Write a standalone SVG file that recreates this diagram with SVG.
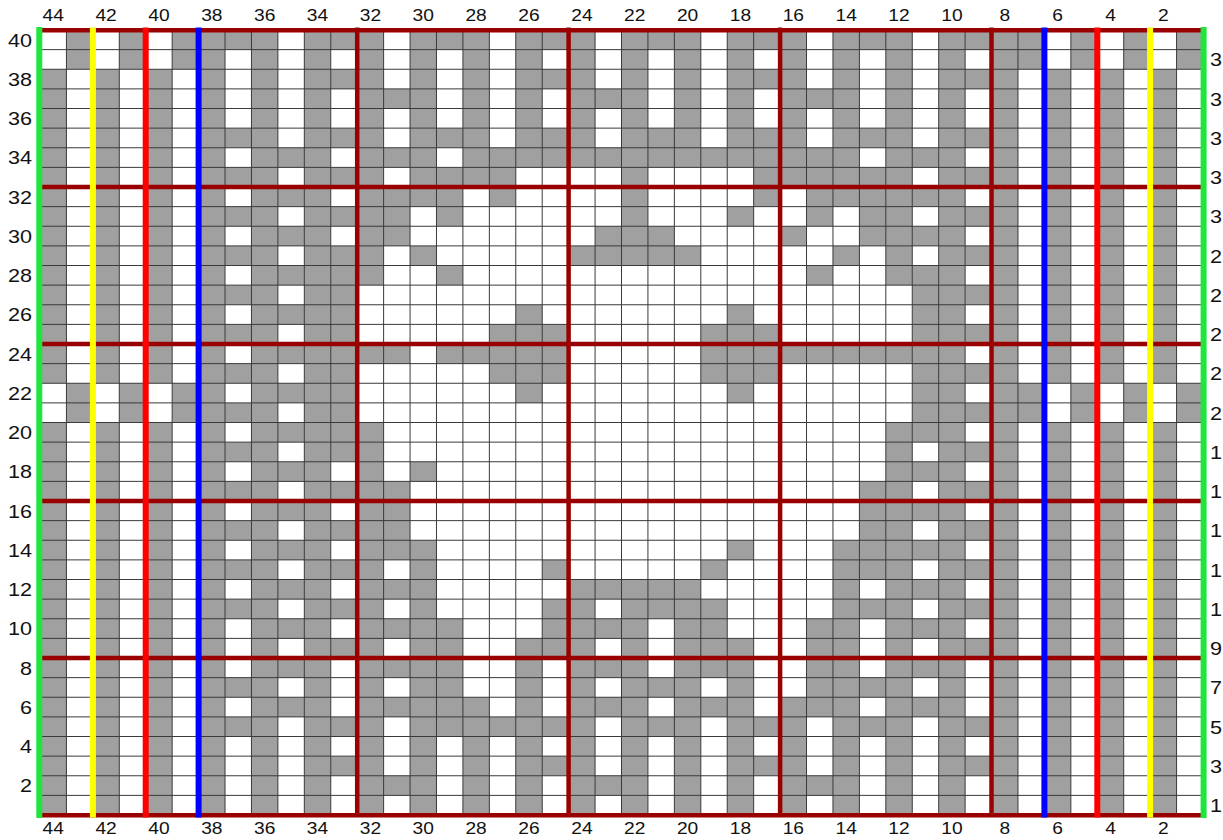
<svg xmlns="http://www.w3.org/2000/svg" width="1223" height="840" viewBox="0 0 1223 840">
<style>
.cell{fill:none;stroke:#a0a0a0;stroke-width:1;stroke-linecap:butt}
.dash{stroke-dasharray:1 1}
.thin{fill:none;stroke:#3a3a3a;stroke-width:1}
.dr{stroke:#990000;stroke-width:4.5;fill:none}
.ye{stroke:#ffff00;stroke-width:6}
.re{stroke:#ff0000;stroke-width:6}
.bl{stroke:#0000ff;stroke-width:6}
.gr{stroke:#1ee63c;stroke-width:6}
text{font-family:"Liberation Sans",Arial,sans-serif;fill:#111}
.t{font-size:16px;text-anchor:middle}
.l{font-size:18px;text-anchor:end}
.r{font-size:18px;text-anchor:start}
</style>
<rect width="1223" height="840" fill="#ffffff"/>
<g id="chart" transform="translate(40 30) scale(26.432 19.625)">
<rect x="0" y="0" width="44" height="40" fill="#ffffff"/>
<path class="cell" d="M.5 2v16M.5 20v20M1.5 0v2M1.5 18v2M2.5 2v16M2.5 20v20M3.5 0v2M3.5 18v2M4.5 2v16M4.5 20v20M5.5 0v2M5.5 18v2M6.5 0v40M7.5 0v1M8.5 0v40M10.5 0v40M33.5 12v9M34.5 0v40M36.5 0v40M37.5 0v2M37.5 18v2M38.5 2v16M38.5 20v20M39.5 0v2M39.5 18v2M40.5 2v16M40.5 20v20M41.5 0v2M41.5 18v2M42.5 2v16M42.5 20v20M43.5 0v2M43.5 18v2"/>
<path class="cell dash" d="M7.5 5v25M7.5 33v3M9.5 6v29M33.5 6v5M33.5 22v13M35.5 0v3M35.5 5v27M35.5 35v3M12 1.5h21M12 4.5h21M12 36.5h21M12 39.5h21"/>
<path class="cell" d="M11 .5h2M14 .5h3M18 .5h3M22 .5h3M26 .5h3M30 .5h3
M11 2.5h2M14 2.5h1M16 2.5h1M18 2.5h3M22 2.5h1M24 2.5h1M26 2.5h3M30 2.5h1M32 2.5h1
M12 3.5h3M16 3.5h1M18 3.5h1M20 3.5h3M24 3.5h1M26 3.5h1M28 3.5h3M32 3.5h1
M11 5.5h2M14 5.5h3M18 5.5h3M22 5.5h3M26 5.5h3M30 5.5h3
M12 6.5h3M16 6.5h15M32 6.5h1
M11 7.5h2M14 7.5h4M22 7.5h1M27 7.5h6
M12 8.5h4M17 8.5h1M22 8.5h1M27 8.5h1M29 8.5h4
M11 9.5h3M15 9.5h1M22 9.5h1M26 9.5h1M29 9.5h1M31 9.5h2
M12 10.5h2M21 10.5h3M28 10.5h1M31 10.5h2
M11 11.5h2M14 11.5h1M20 11.5h5M30 11.5h1M32 11.5h1
M11 12.5h2M15 12.5h1M29 12.5h1M32 12.5h1
M11 13.5h1
M11 14.5h1M18 14.5h1M26 14.5h1
M11 15.5h1M17 15.5h3M25 15.5h3
M11 16.5h3M15 16.5h5M25 16.5h8
M11 17.5h1M17 17.5h3M25 17.5h3
M11 18.5h1M18 18.5h1M26 18.5h1
M11 19.5h1
M11 20.5h2M32 20.5h1
M11 21.5h2M32 21.5h1
M12 22.5h1M14 22.5h1M32 22.5h1
M11 23.5h3M31 23.5h2
M12 24.5h2M31 24.5h2
M11 25.5h3M31 25.5h2
M12 26.5h3M26 26.5h1M30 26.5h3
M11 27.5h2M14 27.5h1M19 27.5h1M25 27.5h1M30 27.5h3
M12 28.5h3M20 28.5h5M30 28.5h1M32 28.5h1
M11 29.5h2M14 29.5h1M19 29.5h2M22 29.5h4M30 29.5h3
M12 30.5h4M19 30.5h4M24 30.5h2M29 30.5h2M32 30.5h1
M11 31.5h2M14 31.5h2M18 31.5h3M22 31.5h1M24 31.5h3M29 31.5h2M32 31.5h1
M12 32.5h4M18 32.5h1M20 32.5h3M24 32.5h3M29 32.5h2M32 32.5h1
M12 33.5h1M14 33.5h2M18 33.5h1M20 33.5h1M22 33.5h3M26 33.5h1M29 33.5h4
M12 34.5h5M18 34.5h1M20 34.5h3M24 34.5h3M28 34.5h3M32 34.5h1
M11 35.5h2M14 35.5h7M22 35.5h3M26 35.5h3M30 35.5h3
M11 37.5h2M14 37.5h1M16 37.5h1M18 37.5h3M22 37.5h1M24 37.5h1M26 37.5h3M30 37.5h1M32 37.5h1
M12 38.5h3M16 38.5h1M18 38.5h1M20 38.5h3M24 38.5h1M26 38.5h1M28 38.5h3M32 38.5h1"/>
<path class="thin" vector-effect="non-scaling-stroke" d="M1 0V40M2 0V40M3 0V40M4 0V40M5 0V40M6 0V40M7 0V40M8 0V40M9 0V40M10 0V40M11 0V40M12 0V40M13 0V40M14 0V40M15 0V40M16 0V40M17 0V40M18 0V40M19 0V40M20 0V40M21 0V40M22 0V40M23 0V40M24 0V40M25 0V40M26 0V40M27 0V40M28 0V40M29 0V40M30 0V40M31 0V40M32 0V40M33 0V40M34 0V40M35 0V40M36 0V40M37 0V40M38 0V40M39 0V40M40 0V40M41 0V40M42 0V40M43 0V40M0 1H44M0 2H44M0 3H44M0 4H44M0 5H44M0 6H44M0 7H44M0 8H44M0 9H44M0 10H44M0 11H44M0 12H44M0 13H44M0 14H44M0 15H44M0 16H44M0 17H44M0 18H44M0 19H44M0 20H44M0 21H44M0 22H44M0 23H44M0 24H44M0 25H44M0 26H44M0 27H44M0 28H44M0 29H44M0 30H44M0 31H44M0 32H44M0 33H44M0 34H44M0 35H44M0 36H44M0 37H44M0 38H44M0 39H44"/>
</g>
<g id="guides">
<path class="dr" d="M40 30.3H1203M40 187H1203M40 344H1203M40 501H1203M40 658H1203M40 815.3H1203M357.2 27.5V817.5M568.6 27.5V817.5M780.1 27.5V817.5M991.5 27.5V817.5"/>
<path class="ye" d="M92.9 27.5V817.5M1150.1 27.5V817.5"/>
<path class="re" d="M145.7 27.5V817.5M1097.3 27.5V817.5"/>
<path class="bl" d="M198.6 27.5V817.5M1044.4 27.5V817.5"/>
<path class="gr" d="M39.3 27V818M1203.6 27V818"/>
</g>
<g id="labels-top">
<text class="t" transform="translate(53.2 21) scale(1.2 1)">44</text>
<text class="t" transform="translate(106.1 21) scale(1.2 1)">42</text>
<text class="t" transform="translate(158.9 21) scale(1.2 1)">40</text>
<text class="t" transform="translate(211.8 21) scale(1.2 1)">38</text>
<text class="t" transform="translate(264.7 21) scale(1.2 1)">36</text>
<text class="t" transform="translate(317.5 21) scale(1.2 1)">34</text>
<text class="t" transform="translate(370.4 21) scale(1.2 1)">32</text>
<text class="t" transform="translate(423.2 21) scale(1.2 1)">30</text>
<text class="t" transform="translate(476.1 21) scale(1.2 1)">28</text>
<text class="t" transform="translate(529 21) scale(1.2 1)">26</text>
<text class="t" transform="translate(581.9 21) scale(1.2 1)">24</text>
<text class="t" transform="translate(634.7 21) scale(1.2 1)">22</text>
<text class="t" transform="translate(687.6 21) scale(1.2 1)">20</text>
<text class="t" transform="translate(740.4 21) scale(1.2 1)">18</text>
<text class="t" transform="translate(793.3 21) scale(1.2 1)">16</text>
<text class="t" transform="translate(846.2 21) scale(1.2 1)">14</text>
<text class="t" transform="translate(899 21) scale(1.2 1)">12</text>
<text class="t" transform="translate(951.9 21) scale(1.2 1)">10</text>
<text class="t" transform="translate(1004.8 21) scale(1.2 1)">8</text>
<text class="t" transform="translate(1057.6 21) scale(1.2 1)">6</text>
<text class="t" transform="translate(1110.5 21) scale(1.2 1)">4</text>
<text class="t" transform="translate(1163.3 21) scale(1.2 1)">2</text>
</g>
<g id="labels-bottom">
<text class="t" transform="translate(53.2 834) scale(1.2 1)">44</text>
<text class="t" transform="translate(106.1 834) scale(1.2 1)">42</text>
<text class="t" transform="translate(158.9 834) scale(1.2 1)">40</text>
<text class="t" transform="translate(211.8 834) scale(1.2 1)">38</text>
<text class="t" transform="translate(264.7 834) scale(1.2 1)">36</text>
<text class="t" transform="translate(317.5 834) scale(1.2 1)">34</text>
<text class="t" transform="translate(370.4 834) scale(1.2 1)">32</text>
<text class="t" transform="translate(423.2 834) scale(1.2 1)">30</text>
<text class="t" transform="translate(476.1 834) scale(1.2 1)">28</text>
<text class="t" transform="translate(529 834) scale(1.2 1)">26</text>
<text class="t" transform="translate(581.9 834) scale(1.2 1)">24</text>
<text class="t" transform="translate(634.7 834) scale(1.2 1)">22</text>
<text class="t" transform="translate(687.6 834) scale(1.2 1)">20</text>
<text class="t" transform="translate(740.4 834) scale(1.2 1)">18</text>
<text class="t" transform="translate(793.3 834) scale(1.2 1)">16</text>
<text class="t" transform="translate(846.2 834) scale(1.2 1)">14</text>
<text class="t" transform="translate(899 834) scale(1.2 1)">12</text>
<text class="t" transform="translate(951.9 834) scale(1.2 1)">10</text>
<text class="t" transform="translate(1004.8 834) scale(1.2 1)">8</text>
<text class="t" transform="translate(1057.6 834) scale(1.2 1)">6</text>
<text class="t" transform="translate(1110.5 834) scale(1.2 1)">4</text>
<text class="t" transform="translate(1163.3 834) scale(1.2 1)">2</text>
</g>
<g id="labels-left">
<text class="l" transform="translate(32 46.6) scale(1.2 1)">40</text>
<text class="l" transform="translate(32 85.9) scale(1.2 1)">38</text>
<text class="l" transform="translate(32 125.1) scale(1.2 1)">36</text>
<text class="l" transform="translate(32 164.4) scale(1.2 1)">34</text>
<text class="l" transform="translate(32 203.6) scale(1.2 1)">32</text>
<text class="l" transform="translate(32 242.9) scale(1.2 1)">30</text>
<text class="l" transform="translate(32 282.1) scale(1.2 1)">28</text>
<text class="l" transform="translate(32 321.4) scale(1.2 1)">26</text>
<text class="l" transform="translate(32 360.6) scale(1.2 1)">24</text>
<text class="l" transform="translate(32 399.9) scale(1.2 1)">22</text>
<text class="l" transform="translate(32 439.1) scale(1.2 1)">20</text>
<text class="l" transform="translate(32 478.4) scale(1.2 1)">18</text>
<text class="l" transform="translate(32 517.6) scale(1.2 1)">16</text>
<text class="l" transform="translate(32 556.9) scale(1.2 1)">14</text>
<text class="l" transform="translate(32 596.1) scale(1.2 1)">12</text>
<text class="l" transform="translate(32 635.4) scale(1.2 1)">10</text>
<text class="l" transform="translate(32 674.6) scale(1.2 1)">8</text>
<text class="l" transform="translate(32 713.9) scale(1.2 1)">6</text>
<text class="l" transform="translate(32 753.1) scale(1.2 1)">4</text>
<text class="l" transform="translate(32 792.4) scale(1.2 1)">2</text>
</g>
<g id="labels-right">
<text class="r" transform="translate(1210 66.2) scale(1.2 1)">3</text>
<text class="r" transform="translate(1210 105.5) scale(1.2 1)">3</text>
<text class="r" transform="translate(1210 144.7) scale(1.2 1)">3</text>
<text class="r" transform="translate(1210 184) scale(1.2 1)">3</text>
<text class="r" transform="translate(1210 223.2) scale(1.2 1)">3</text>
<text class="r" transform="translate(1210 262.5) scale(1.2 1)">2</text>
<text class="r" transform="translate(1210 301.7) scale(1.2 1)">2</text>
<text class="r" transform="translate(1210 341) scale(1.2 1)">2</text>
<text class="r" transform="translate(1210 380.2) scale(1.2 1)">2</text>
<text class="r" transform="translate(1210 419.5) scale(1.2 1)">2</text>
<text class="r" transform="translate(1210 458.7) scale(1.2 1)">1</text>
<text class="r" transform="translate(1210 498) scale(1.2 1)">1</text>
<text class="r" transform="translate(1210 537.2) scale(1.2 1)">1</text>
<text class="r" transform="translate(1210 576.5) scale(1.2 1)">1</text>
<text class="r" transform="translate(1210 615.7) scale(1.2 1)">1</text>
<text class="r" transform="translate(1210 655) scale(1.2 1)">9</text>
<text class="r" transform="translate(1210 694.2) scale(1.2 1)">7</text>
<text class="r" transform="translate(1210 733.5) scale(1.2 1)">5</text>
<text class="r" transform="translate(1210 772.7) scale(1.2 1)">3</text>
<text class="r" transform="translate(1210 812) scale(1.2 1)">1</text>
</g>
</svg>
